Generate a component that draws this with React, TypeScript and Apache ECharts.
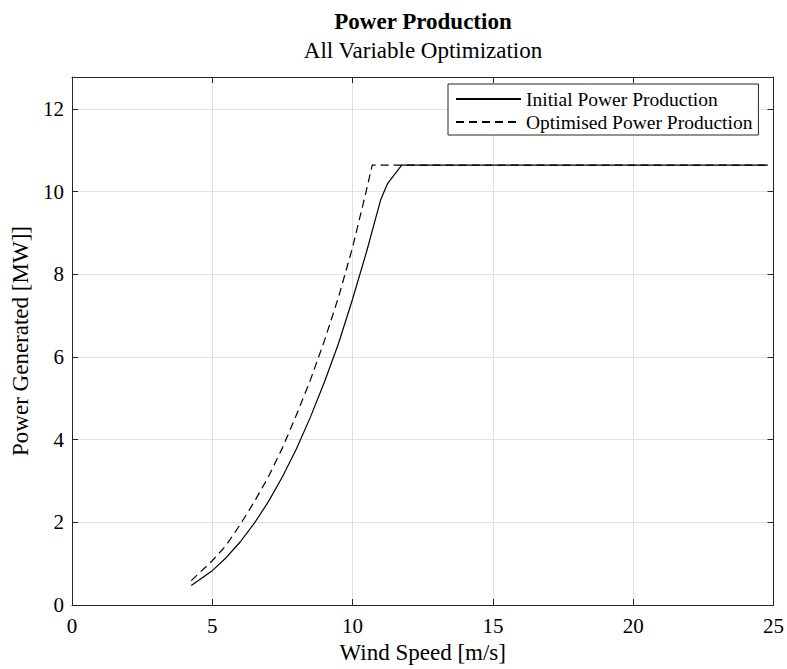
import React, { useEffect, useRef } from "react";
import * as echarts from "echarts";

// Wind speed [m/s] and power [MW]
const initialWind = [4.25, 5, 5.5, 6, 6.5, 7, 7.5, 8, 8.5, 9, 9.5, 10, 10.5, 11, 11.25, 11.75, 24.8];
const initialPower = [0.47, 0.83, 1.15, 1.53, 1.98, 2.5, 3.1, 3.78, 4.55, 5.4, 6.33, 7.4, 8.55, 9.8, 10.2, 10.64, 10.64];

const optimisedWind = [4.25, 5, 5.5, 6, 6.5, 7, 7.5, 8, 8.5, 9, 9.5, 10, 10.5, 10.7, 24.8];
const optimisedPower = [0.59, 1.07, 1.45, 1.95, 2.5, 3.1, 3.8, 4.6, 5.45, 6.4, 7.45, 8.65, 10.05, 10.64, 10.64];

const seriesNames = ["Initial Power Production", "Optimised Power Production"];
const titleText = "Power Production";
const subtitleText = "All Variable Optimization";
const xAxisName = "Wind Speed [m/s]";
const yAxisName = "Power Generated [MW]]";
const xRange = [0, 25];
const yRange = [0, 12.77];

const FONT = "'Liberation Serif', 'Times New Roman', serif";
const AXIS = "#262626";
const GRID = "#e0e0e0";

export default function App() {
  const ref = useRef<HTMLDivElement>(null);

  useEffect(() => {
    if (!ref.current) return;
    const chart = echarts.init(ref.current, undefined, { renderer: "svg" });
    const pair = (xs: number[], ys: number[]) => xs.map((x, i) => [x, ys[i]]);
    const yFmt = (v: number) => (Math.abs(v / 2 - Math.round(v / 2)) < 1e-9 ? String(v) : "");

    const baseX = {
      type: "value" as const,
      min: xRange[0],
      max: xRange[1],
      interval: 5,
    };
    const baseY = {
      type: "value" as const,
      min: yRange[0],
      max: yRange[1],
      interval: 2,
    };

    chart.setOption({
      animation: false,
      backgroundColor: "#ffffff",
      grid: { left: 72, right: 13, top: 77, bottom: 63 },
      graphic: [
        {
          type: "text",
          x: 423,
          y: 21,
          style: {
            text: titleText,
            font: `bold 23px ${FONT}`,
            fill: "#000",
            textAlign: "center",
            textVerticalAlign: "middle",
          },
        },
        {
          type: "text",
          x: 423,
          y: 50,
          style: {
            text: subtitleText,
            font: `23px ${FONT}`,
            fill: "#000",
            textAlign: "center",
            textVerticalAlign: "middle",
          },
        },
      ],
      legend: {
        orient: "vertical",
        left: 448,
        top: 84,
        padding: [5, 6, 3, 7],
        itemGap: 3,
        itemWidth: 65,
        itemHeight: 14,
        borderColor: AXIS,
        borderWidth: 1,
        backgroundColor: "#ffffff",
        itemStyle: { opacity: 0 },
        textStyle: { fontFamily: FONT, fontSize: 19.5, color: "#000", lineHeight: 20 },
        data: seriesNames,
      },
      xAxis: [
        {
          ...baseX,
          position: "bottom",
          name: xAxisName,
          nameLocation: "middle",
          nameGap: 36,
          nameTextStyle: { fontFamily: FONT, fontSize: 23, color: "#000" },
          axisLine: { show: true, onZero: false, lineStyle: { color: AXIS, width: 1 } },
          axisTick: { show: true, inside: true, length: 6, lineStyle: { color: AXIS } },
          axisLabel: { fontFamily: FONT, fontSize: 21, color: "#000", margin: 10 },
          splitLine: { show: true, lineStyle: { color: GRID, width: 1 } },
        },
        {
          ...baseX,
          position: "top",
          axisLine: { show: true, onZero: false, lineStyle: { color: AXIS, width: 1 } },
          axisTick: { show: true, inside: true, length: 6, lineStyle: { color: AXIS } },
          axisLabel: { show: false },
          splitLine: { show: false },
        },
      ],
      yAxis: [
        {
          ...baseY,
          position: "left",
          name: yAxisName,
          nameLocation: "middle",
          nameGap: 36,
          nameTextStyle: { fontFamily: FONT, fontSize: 23, color: "#000" },
          axisLine: { show: true, onZero: false, lineStyle: { color: AXIS, width: 1 } },
          axisTick: { show: true, inside: true, length: 6, lineStyle: { color: AXIS } },
          axisLabel: { fontFamily: FONT, fontSize: 21, color: "#000", margin: 8, formatter: yFmt },
          splitLine: { show: true, lineStyle: { color: GRID, width: 1 } },
        },
        {
          ...baseY,
          position: "right",
          axisLine: { show: true, onZero: false, lineStyle: { color: AXIS, width: 1 } },
          axisTick: { show: true, inside: true, length: 6, lineStyle: { color: AXIS } },
          axisLabel: { show: false },
          splitLine: { show: false },
        },
      ],
      series: [
        {
          name: seriesNames[0],
          type: "line",
          xAxisIndex: 0,
          yAxisIndex: 0,
          data: pair(initialWind, initialPower),
          symbol: "none",
          smooth: false,
          lineStyle: { color: "#000", width: 1.2, type: "solid" },
          itemStyle: { color: "#000" },
          z: 3,
        },
        {
          name: seriesNames[1],
          type: "line",
          xAxisIndex: 0,
          yAxisIndex: 0,
          data: pair(optimisedWind, optimisedPower),
          symbol: "none",
          smooth: false,
          lineStyle: { color: "#000", width: 1.2, type: [8, 5] },
          itemStyle: { color: "#000" },
          z: 2,
        },
      ],
    });
    return () => chart.dispose();
  }, []);

  return (
    <div
      ref={ref}
      style={{ position: "absolute", left: 0, top: 0, width: 787, height: 669 }}
    />
  );
}
